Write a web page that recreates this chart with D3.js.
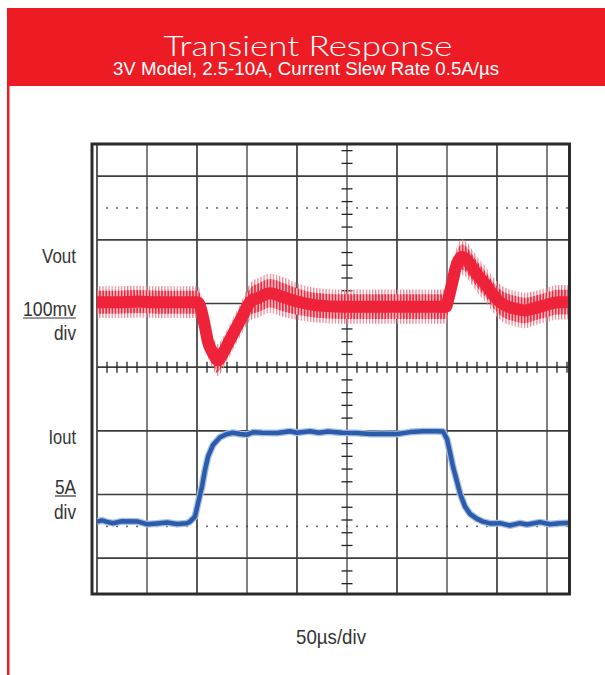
<!DOCTYPE html>
<html><head><meta charset="utf-8">
<script src="https://cdn.jsdelivr.net/npm/d3@7"></script>
<style>body{margin:0;background:#fff;} svg{display:block}</style>
</head><body>
<svg id="c" width="605" height="675"></svg>
<script>
// ---------- data ----------
const titleText = "Transient Response";
const subtitleText = "3V Model, 2.5-10A, Current Slew Rate 0.5A/µs";
const xAxisLabel = "50µs/div";
const voutLabels = ["Vout", "100mv", "div"];
const ioutLabels = ["Iout", "5A", "div"];

const gridTimes = [0, 50, 100, 150, 200, 250, 300, 350, 400, 450]; // µs
const gridDivs = [-3, -2, -1, 0, 1, 2, 3];
const markerDivs = [2.5, -2.5];

// Vout: deviation from nominal (mV), 100 mV/div
const voutTime = [0,20,40,60,80,100,102,105,108,111,116,121,126,131,138,145,150,155,160,173,186,200,220,246,273,300,330,349,351,355,360,365,368,375,381,388,395,401,408,418,428,436,448,461,473];
const voutMid  = [2,2,3,2,2,2,0,-15,-37,-60,-78,-89,-78,-63,-42,-21,-5,5,8,16,10,3,-3,-5,-5,-5,-5,-5,5,31,63,73,71,57,44,31,16,5,-3,-8,-11,-8,-3,2,2];
const voutRipple = [25,25,25,25,25,25,25,25,25,25,25,25,25,25,25,26,28,30,31,31,31,29,27,27,27,27,27,27,26,26,27,28,28,28,28,28,28,28,28,28,28,27,27,27,27];

// Iout (A), 5 A/div
const ioutTime = [0,5,10,16,25,40,50,60,70,80,90,93,98,101,105,108,111,116,123,130,136,143,150,156,165,180,193,200,213,222,231,245,260,273,286,300,313,326,340,346,350,353,356,360,363,368,373,380,386,393,403,413,423,430,443,453,463,473];
const ioutAmp  = [2.52,2.62,2.5,2.4,2.55,2.54,2.32,2.38,2.45,2.34,2.4,2.52,2.92,3.97,5.27,6.58,7.62,8.54,9.15,9.4,9.5,9.4,9.35,9.54,9.5,9.48,9.62,9.5,9.62,9.5,9.6,9.5,9.48,9.4,9.42,9.4,9.55,9.62,9.62,9.6,9.0,7.95,6.84,5.66,4.75,3.7,3.13,2.74,2.52,2.38,2.4,2.22,2.4,2.29,2.48,2.32,2.4,2.42];

// ---------- layout ----------
const svg = d3.select("#c");
const RED = "#ED1C24";
const x = d3.scaleLinear().domain([0, 473]).range([97, 570]);
const yDiv = d3.scaleLinear().domain([-3.57, 3.52]).range([594.5, 143]);
const yV = d3.scaleLinear().domain([-457, 252]).range([594.5, 143]);      // Vout ref at +1 div
const yI = d3.scaleLinear().domain([-3.2, 32.25]).range([594.5, 143]);    // Iout zero at -2.93 div

// header
svg.append("rect").attr("x", 7).attr("y", 8).attr("width", 598).attr("height", 78).attr("fill", RED);
svg.append("rect").attr("x", 7).attr("y", 8).attr("width", 2.5).attr("height", 667).attr("fill", RED);
svg.append("text").attr("x", 308).attr("y", 56).attr("text-anchor", "middle")
  .attr("fill", "#fff").style("font-family", "Lato, 'DejaVu Sans', sans-serif").style("font-weight", 300)
  .style("font-size", "27px").attr("textLength", 289).attr("lengthAdjust", "spacingAndGlyphs").text(titleText);
svg.append("text").attr("x", 306).attr("y", 75).attr("text-anchor", "middle")
  .attr("fill", "#fff").style("font-family", "'Liberation Sans Narrow', 'Liberation Sans', Arial, sans-serif")
  .style("font-size", "18px").attr("textLength", 386).attr("lengthAdjust", "spacingAndGlyphs").text(subtitleText);

// grid
const g = svg.append("g");
const GRID = "#3d3d3d";
g.selectAll("line.vg").data(gridTimes).join("line").attr("class", "vg")
  .attr("x1", d => x(d)).attr("x2", d => x(d)).attr("y1", 143).attr("y2", 594.5)
  .attr("stroke", (d, i) => i % 2 ? "#6a6a6a" : GRID).attr("stroke-width", 1.7);
g.selectAll("line.hg").data(gridDivs).join("line").attr("class", "hg")
  .attr("x1", 97).attr("x2", 570).attr("y1", d => yDiv(d)).attr("y2", d => yDiv(d))
  .attr("stroke", GRID).attr("stroke-width", 1.7);

// dotted marker lines
const dotTimes = d3.range(10, 473, 10);
markerDivs.forEach(m => {
  g.selectAll(null).data(dotTimes).join("rect")
    .attr("x", d => x(d) - 0.8).attr("y", yDiv(m) - 0.8).attr("width", 1.6).attr("height", 1.6).attr("fill", "#444");
});

// centre-axis minor ticks
const hTicks = d3.range(10, 473, 10).filter(d => d % 50 !== 0);
g.selectAll("line.ht").data(hTicks).join("line").attr("class", "ht")
  .attr("x1", d => x(d)).attr("x2", d => x(d)).attr("y1", yDiv(0) - 5.5).attr("y2", yDiv(0) + 5.5)
  .attr("stroke", "#222").attr("stroke-width", 1.3);
const vTicks = d3.range(-17, 18).filter(k => k % 5 !== 0).map(k => k * 0.2);
g.selectAll("line.vt").data(vTicks).join("line").attr("class", "vt")
  .attr("x1", x(250) - 5.5).attr("x2", x(250) + 5.5).attr("y1", d => yDiv(d)).attr("y2", d => yDiv(d))
  .attr("stroke", "#222").attr("stroke-width", 1.3);

// frame
svg.append("rect").attr("x", 92).attr("y", 144).attr("width", 477.5).attr("height", 450)
  .attr("fill", "none").attr("stroke", "#2a2a2a").attr("stroke-width", 3);

// clip
svg.append("clipPath").attr("id", "clip").append("rect").attr("x", 97).attr("y", 145).attr("width", 471).attr("height", 448);

// patterns for switching ripple
const defs = svg.append("defs");
const patOuter = defs.append("pattern").attr("id", "ripOuter").attr("patternUnits", "userSpaceOnUse")
  .attr("width", 3.1).attr("height", 20);
patOuter.append("rect").attr("x", 0).attr("y", 0).attr("width", 1.2).attr("height", 20).attr("fill", "#f4808f");
const patInner = defs.append("pattern").attr("id", "ripInner").attr("patternUnits", "userSpaceOnUse")
  .attr("width", 3.1).attr("height", 20);
patInner.append("rect").attr("x", 0).attr("y", 0).attr("width", 1.6).attr("height", 20).attr("fill", "#ee2a40");
patInner.append("rect").attr("x", 1.6).attr("y", 0).attr("width", 1.5).attr("height", 20).attr("fill", "#f7b3bc");

const traces = svg.append("g").attr("clip-path", "url(#clip)");
const vData = voutTime.map((t, i) => ({t, m: voutMid[i], r: voutRipple[i]}));
traces.append("path").datum(vData)
  .attr("d", d3.area().x(d => x(d.t)).y0(d => yV(d.m - d.r)).y1(d => yV(d.m + d.r)).curve(d3.curveMonotoneX))
  .attr("fill", "url(#ripOuter)");
traces.append("path").datum(vData)
  .attr("d", d3.area().x(d => x(d.t)).y0(d => yV(d.m - d.r * 0.72)).y1(d => yV(d.m + d.r * 0.72)).curve(d3.curveMonotoneX))
  .attr("fill", "url(#ripInner)");
traces.append("path").datum(vData)
  .attr("d", d3.line().x(d => x(d.t)).y(d => yV(d.m)).curve(d3.curveMonotoneX))
  .attr("fill", "none").attr("stroke", "#ee2239").attr("stroke-width", 12).attr("stroke-linejoin", "round");

const iData = ioutTime.map((t, i) => ({t, a: ioutAmp[i]}));
const iLine = d3.line().x(d => x(d.t)).y(d => yI(d.a));
traces.append("path").datum(iData).attr("d", iLine)
  .attr("fill", "none").attr("stroke", "#a9c1e4").attr("stroke-width", 7).attr("stroke-linejoin", "round");
traces.append("path").datum(iData).attr("d", iLine)
  .attr("fill", "none").attr("stroke", "#2b5cab").attr("stroke-width", 4.5).attr("stroke-linejoin", "round");

// channel labels
const LAB = "#333";
const labelFont = "'Liberation Sans Narrow', 'Liberation Sans', Arial, sans-serif";
function lab(txt, y, w, underline) {
  svg.append("text").attr("x", 76).attr("y", y).attr("text-anchor", "end").attr("fill", LAB)
    .style("font-family", labelFont).style("font-size", "21px")
    .attr("textLength", w).attr("lengthAdjust", "spacingAndGlyphs").text(txt);
  if (underline) svg.append("line").attr("x1", 76 - w).attr("x2", 76).attr("y1", y + 2).attr("y2", y + 2)
    .attr("stroke", LAB).attr("stroke-width", 1.2);
}
lab(voutLabels[0], 263, 34, false);
lab(voutLabels[1], 316, 53, true);
lab(voutLabels[2], 340, 22, false);
lab(ioutLabels[0], 444, 27.5, false);
lab(ioutLabels[1], 494, 21, true);
lab(ioutLabels[2], 519, 22, false);

svg.append("text").attr("x", 331).attr("y", 644).attr("text-anchor", "middle").attr("fill", LAB)
  .style("font-family", labelFont).style("font-size", "21px")
  .attr("textLength", 70).attr("lengthAdjust", "spacingAndGlyphs").text(xAxisLabel);
</script>
</body></html>
